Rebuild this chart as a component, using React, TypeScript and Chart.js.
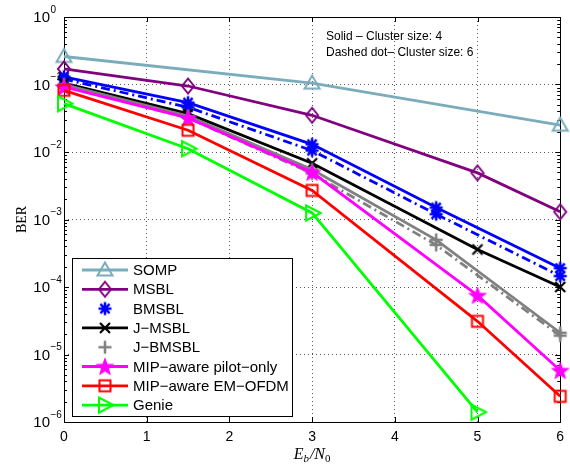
import React, { useEffect, useRef } from 'react';
import { Chart, registerables } from 'chart.js';

Chart.register(...registerables);

// ---- data ----
const xTicks = [0, 1, 2, 3, 4, 5, 6];
const yDecades = [1e-6, 1e-5, 1e-4, 1e-3, 1e-2, 1e-1, 1];
const yMinorMultipliers = [2, 3, 4, 5, 6, 7, 8, 9];

const seriesNames = [
  'SOMP',
  'MSBL',
  'BMSBL',
  'J\u2212MSBL',
  'J\u2212BMSBL',
  'MIP\u2212aware pilot\u2212only',
  'MIP\u2212aware EM\u2212OFDM',
  'Genie',
];
const annotationLines = ['Solid \u2013 Cluster size: 4', 'Dashed dot\u2013 Cluster size: 6'];
const xTitleParts = ['E', 'b', '/N', '0'];
const yTitle = 'BER';

const snrSOMP = [0, 3, 6];
const berSOMP = [0.26, 0.105, 0.025];

const snrMSBL = [0, 1.5, 3, 5, 6];
const berMSBL = [0.17, 0.095, 0.035, 0.0049, 0.0013];

const snrBMSBL = [0, 1.5, 3, 4.5, 6];
const berBMSBL4 = [0.13, 0.054, 0.013, 0.0015, 0.00019];
const berBMSBL6 = [0.12, 0.046, 0.0105, 0.0012, 0.000145];

const snrJMSBL = [0, 1.5, 3, 5, 6];
const berJMSBL = [0.105, 0.037, 0.0068, 0.00036, 0.0001];

const snrJBMSBL = [0, 1.5, 3, 4.5, 6];
const berJBMSBL4 = [0.1, 0.034, 0.0055, 0.0005, 0.000021];
const berJBMSBL6 = [0.095, 0.032, 0.0048, 0.00042, 0.000019];

const snrPilot = [0, 1.5, 3, 5, 6];
const berPilot = [0.092, 0.032, 0.005, 0.000075, 0.0000058];

const snrEM = [0, 1.5, 3, 5, 6];
const berEM = [0.082, 0.021, 0.0027, 0.000031, 0.0000024];

const snrGenie = [0, 1.5, 3, 5];
const berGenie = [0.052, 0.0112, 0.00125, 0.0000014];

// ---- styles ----
const colSOMP = 'rgb(122,172,188)';
const colMSBL = 'rgb(128,0,128)';
const colBMSBL = 'rgb(0,0,255)';
const colJMSBL = 'rgb(0,0,0)';
const colJBMSBL = 'rgb(128,128,128)';
const colPilot = 'rgb(255,0,255)';
const colEM = 'rgb(255,0,0)';
const colGenie = 'rgb(0,255,0)';
const dashDot = [9, 4, 2, 4];
const SANS = '"Liberation Sans", Arial, sans-serif';
const SERIF = '"Liberation Serif", "Times New Roman", serif';

type MarkerKind = 'triUp' | 'diamond' | 'asterisk' | 'x' | 'plus' | 'star' | 'square' | 'triRight';

function makeMarker(kind: MarkerKind, color: string): HTMLCanvasElement {
  const c = document.createElement('canvas');
  c.width = 26;
  c.height = 26;
  const g = c.getContext('2d')!;
  g.translate(13, 13);
  g.strokeStyle = color;
  g.fillStyle = color;
  g.lineWidth = 2;
  g.lineJoin = 'miter';
  g.beginPath();
  switch (kind) {
    case 'triUp':
      g.moveTo(0, -7.5);
      g.lineTo(7.5, 5.5);
      g.lineTo(-7.5, 5.5);
      g.closePath();
      g.stroke();
      break;
    case 'diamond':
      g.moveTo(0, -7.5);
      g.lineTo(6, 0);
      g.lineTo(0, 7.5);
      g.lineTo(-6, 0);
      g.closePath();
      g.stroke();
      break;
    case 'asterisk': {
      const r = 6.5;
      const d = r * 0.7071;
      g.moveTo(-r, 0); g.lineTo(r, 0);
      g.moveTo(0, -r); g.lineTo(0, r);
      g.moveTo(-d, -d); g.lineTo(d, d);
      g.moveTo(-d, d); g.lineTo(d, -d);
      g.lineWidth = 2.5;
      g.stroke();
      break;
    }
    case 'x':
      g.moveTo(-5, -5); g.lineTo(5, 5);
      g.moveTo(-5, 5); g.lineTo(5, -5);
      g.lineWidth = 2.2;
      g.stroke();
      break;
    case 'plus':
      g.moveTo(-6.5, 0); g.lineTo(6.5, 0);
      g.moveTo(0, -6.5); g.lineTo(0, 6.5);
      g.lineWidth = 2.5;
      g.stroke();
      break;
    case 'star': {
      const R = 9;
      const r = 3.6;
      for (let k = 0; k < 10; k++) {
        const a = -Math.PI / 2 + (k * Math.PI) / 5;
        const rad = k % 2 === 0 ? R : r;
        const px = Math.cos(a) * rad;
        const py = Math.sin(a) * rad + 0.8;
        if (k === 0) g.moveTo(px, py);
        else g.lineTo(px, py);
      }
      g.closePath();
      g.fill();
      g.lineWidth = 1;
      g.stroke();
      break;
    }
    case 'square':
      g.rect(-5.5, -5.5, 11, 11);
      g.stroke();
      break;
    case 'triRight':
      g.moveTo(8.5, 0);
      g.lineTo(-6, -7.5);
      g.lineTo(-6, 7.5);
      g.closePath();
      g.stroke();
      break;
  }
  return c;
}

function pts(xs: number[], ys: number[]) {
  return xs.map((x, i) => ({ x, y: ys[i] }));
}

export default function App() {
  const ref = useRef<HTMLCanvasElement | null>(null);

  useEffect(() => {
    document.body.style.margin = '0';
    const canvas = ref.current!;

    const mSOMP = makeMarker('triUp', colSOMP);
    const mMSBL = makeMarker('diamond', colMSBL);
    const mBMSBL = makeMarker('asterisk', colBMSBL);
    const mJMSBL = makeMarker('x', colJMSBL);
    const mJBMSBL = makeMarker('plus', colJBMSBL);
    const mPilot = makeMarker('star', colPilot);
    const mEM = makeMarker('square', colEM);
    const mGenie = makeMarker('triRight', colGenie);

    const base = (label: string, data: any[], color: string, marker: HTMLCanvasElement, dash: number[] = []) => ({
      label,
      data,
      borderColor: color,
      backgroundColor: color,
      borderWidth: 2.8,
      borderDash: dash,
      pointStyle: marker,
      pointRadius: 7,
      tension: 0,
      clip: false as any,
    });

    const datasets: any[] = [
      base(seriesNames[0], pts(snrSOMP, berSOMP), colSOMP, mSOMP),
      base(seriesNames[1], pts(snrMSBL, berMSBL), colMSBL, mMSBL),
      base(seriesNames[2], pts(snrBMSBL, berBMSBL4), colBMSBL, mBMSBL),
      base(seriesNames[2] + ' (6)', pts(snrBMSBL, berBMSBL6), colBMSBL, mBMSBL, dashDot),
      base(seriesNames[3], pts(snrJMSBL, berJMSBL), colJMSBL, mJMSBL),
      base(seriesNames[4], pts(snrJBMSBL, berJBMSBL4), colJBMSBL, mJBMSBL),
      base(seriesNames[4] + ' (6)', pts(snrJBMSBL, berJBMSBL6), colJBMSBL, mJBMSBL, dashDot),
      base(seriesNames[5], pts(snrPilot, berPilot), colPilot, mPilot),
      base(seriesNames[6], pts(snrEM, berEM), colEM, mEM),
      base(seriesNames[7], pts(snrGenie, berGenie), colGenie, mGenie),
    ].map((d, i) => ({ ...d, order: -i }));

    const legendEntries = [
      { name: seriesNames[0], color: colSOMP, marker: mSOMP, line: true },
      { name: seriesNames[1], color: colMSBL, marker: mMSBL, line: true },
      { name: seriesNames[2], color: colBMSBL, marker: mBMSBL, line: false },
      { name: seriesNames[3], color: colJMSBL, marker: mJMSBL, line: true },
      { name: seriesNames[4], color: colJBMSBL, marker: mJBMSBL, line: false },
      { name: seriesNames[5], color: colPilot, marker: mPilot, line: true },
      { name: seriesNames[6], color: colEM, marker: mEM, line: true },
      { name: seriesNames[7], color: colGenie, marker: mGenie, line: true },
    ];

    const decor = {
      id: 'decor',
      beforeDatasetsDraw(chart: any) {
        const { ctx, chartArea: a, scales } = chart;
        const xs = scales.x;
        const ys = scales.y;
        ctx.save();
        ctx.strokeStyle = '#000';
        ctx.lineWidth = 1;
        ctx.beginPath();
        xTicks.forEach((v) => {
          const px = Math.round(xs.getPixelForValue(v)) + 0.5;
          ctx.moveTo(px, a.bottom); ctx.lineTo(px, a.bottom - 5);
          ctx.moveTo(px, a.top); ctx.lineTo(px, a.top + 5);
        });
        yDecades.forEach((v) => {
          const py = Math.round(ys.getPixelForValue(v)) + 0.5;
          ctx.moveTo(a.left, py); ctx.lineTo(a.left + 5, py);
          ctx.moveTo(a.right, py); ctx.lineTo(a.right - 5, py);
          if (v < 1) {
            yMinorMultipliers.forEach((m) => {
              const pm = Math.round(ys.getPixelForValue(v * m)) + 0.5;
              ctx.moveTo(a.left, pm); ctx.lineTo(a.left + 3, pm);
              ctx.moveTo(a.right, pm); ctx.lineTo(a.right - 3, pm);
            });
          }
        });
        ctx.stroke();
        ctx.strokeRect(Math.round(a.left) + 0.5, Math.round(a.top) + 0.5, Math.round(a.right - a.left), Math.round(a.bottom - a.top));
        ctx.restore();
      },
      afterDraw(chart: any) {
        const { ctx, chartArea: a, scales } = chart;
        const ys = scales.y;
        ctx.save();
        ctx.fillStyle = '#000';
        yDecades.forEach((v) => {
          const e = Math.round(Math.log10(v));
          const py = ys.getPixelForValue(v);
          ctx.font = `15px ${SANS}`;
          ctx.textAlign = 'right';
          ctx.textBaseline = 'middle';
          ctx.fillText('10', 50, py + 1);
          ctx.font = `10px ${SANS}`;
          ctx.textAlign = 'left';
          ctx.fillText(e === 0 ? '0' : '\u2212' + String(-e), 50.5, py - 7);
        });
        ctx.save();
        ctx.translate(22, (a.top + a.bottom) / 2);
        ctx.rotate(-Math.PI / 2);
        ctx.font = `14px ${SERIF}`;
        ctx.textAlign = 'center';
        ctx.textBaseline = 'middle';
        ctx.fillText(yTitle, 0, 0);
        ctx.restore();
        const big = `italic 16px ${SERIF}`;
        const subI = `italic 11px ${SERIF}`;
        const subR = `11px ${SERIF}`;
        const fonts = [big, subI, big, subR];
        const widths = xTitleParts.map((t, i) => {
          ctx.font = fonts[i];
          return ctx.measureText(t).width;
        });
        const total = widths.reduce((s, w) => s + w, 0) + 1;
        let cx = (a.left + a.right) / 2 - total / 2;
        const base = 459;
        ctx.textAlign = 'left';
        ctx.textBaseline = 'alphabetic';
        xTitleParts.forEach((t, i) => {
          ctx.font = fonts[i];
          ctx.fillText(t, cx, i % 2 === 1 ? base + 3 : base);
          cx += widths[i] + (i === 1 ? 1 : 0);
        });
        ctx.font = `12px ${SANS}`;
        ctx.textAlign = 'left';
        ctx.textBaseline = 'middle';
        ctx.fillText(annotationLines[0], 326, 37);
        ctx.fillText(annotationLines[1], 326, 53);
        const lx = 72, ly = 258, lw = 220, lh = 158;
        ctx.fillStyle = '#fff';
        ctx.fillRect(lx, ly, lw, lh);
        ctx.strokeStyle = '#000';
        ctx.lineWidth = 1;
        ctx.strokeRect(lx + 0.5, ly + 0.5, lw, lh);
        legendEntries.forEach((en, i) => {
          const yy = 270 + i * 19.3;
          if (en.line) {
            ctx.strokeStyle = en.color;
            ctx.lineWidth = 2.8;
            ctx.beginPath();
            ctx.moveTo(82, yy);
            ctx.lineTo(128, yy);
            ctx.stroke();
          }
          ctx.drawImage(en.marker, 105 - 13, yy - 13);
          ctx.fillStyle = '#000';
          ctx.font = `15px ${SANS}`;
          ctx.textAlign = 'left';
          ctx.textBaseline = 'middle';
          ctx.fillText(en.name, 133, yy + 1);
        });
        ctx.restore();
      },
    };

    const gridOpts = { color: 'rgba(0,0,0,0.65)', lineWidth: 1, drawTicks: false };

    const chart = new Chart(canvas, {
      type: 'line',
      data: { datasets },
      options: {
        responsive: false,
        animation: false,
        events: [],
        layout: { padding: { top: 17, right: 8, left: 0, bottom: 0 } },
        plugins: { legend: { display: false }, tooltip: { enabled: false }, title: { display: false } },
        scales: {
          x: {
            type: 'linear',
            min: 0,
            max: 6,
            afterBuildTicks: (s: any) => {
              s.ticks = xTicks.map((v) => ({ value: v }));
            },
            ticks: { color: '#000', font: { family: SANS, size: 14 }, padding: 7, maxRotation: 0 },
            grid: gridOpts,
            border: { display: false, dash: [1, 3] },
            afterFit: (s: any) => {
              s.height = 42;
              s.paddingLeft = 0;
              s.paddingRight = 0;
            },
          },
          y: {
            type: 'logarithmic',
            min: 1e-6,
            max: 1,
            afterBuildTicks: (s: any) => {
              s.ticks = yDecades.map((v) => ({ value: v }));
            },
            ticks: { display: false },
            grid: gridOpts,
            border: { display: false, dash: [1, 3] },
            afterFit: (s: any) => {
              s.width = 64;
              s.paddingTop = 0;
              s.paddingBottom = 0;
            },
          },
        },
      } as any,
      plugins: [decor],
    });
    return () => chart.destroy();
  }, []);

  return (
    <div style={{ width: 570, height: 464 }}>
      <canvas ref={ref} width={570} height={464} style={{ display: 'block' }} />
    </div>
  );
}
